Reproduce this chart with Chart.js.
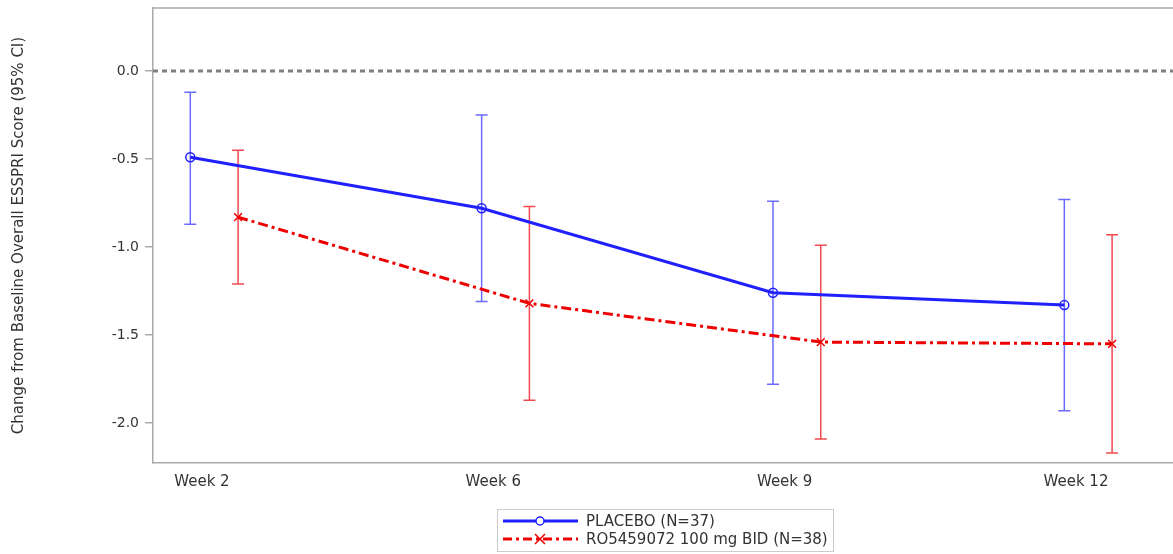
<!DOCTYPE html>
<html>
<head>
<meta charset="utf-8">
<script src="https://cdn.jsdelivr.net/npm/chart.js@4.4.1/dist/chart.umd.min.js"></script>
<style>
  body { margin: 0; background: #fff; }
  #wrap { position: relative; width: 1173px; height: 554px; }
  #legend {
    position: absolute; left: 497px; top: 509px; width: 335px; height: 39px;
    border: 1px solid #ccc; font-family: "DejaVu Sans", sans-serif; font-size: 15px; color: #333;
    padding-top: 2px;
  }
  .row { display: flex; align-items: center; height: 18px; }
  .row svg { margin-left: 5px; margin-right: 8px; }
</style>
</head>
<body>
<div id="wrap">
  <canvas id="chart"></canvas>
  <div id="legend">
    <div class="row">
      <svg width="75" height="12"><line x1="0" y1="6" x2="75" y2="6" stroke="#2020ff" stroke-width="3"/><circle cx="37" cy="6" r="4" fill="#fff" stroke="#2020ff" stroke-width="1.5"/></svg>
      <span>PLACEBO (N=37)</span>
    </div>
    <div class="row">
      <svg width="75" height="12"><line x1="0" y1="6" x2="75" y2="6" stroke="#ee0000" stroke-width="3" stroke-dasharray="9 4 3 4"/><path d="M32 1 L42 11 M42 1 L32 11" stroke="#ee0000" stroke-width="1.5"/></svg>
      <span>RO5459072 100 mg BID (N=38)</span>
    </div>
  </div>
</div>
<script>
const weeks = ['Week 2', 'Week 6', 'Week 9', 'Week 12'];
const placeboMean = [-0.49, -0.78, -1.26, -1.33];
const placeboUpper = [-0.12, -0.25, -0.74, -0.73];
const placeboLower = [-0.87, -1.31, -1.78, -1.93];
const roMean = [-0.83, -1.32, -1.54, -1.55];
const roUpper = [-0.45, -0.77, -0.99, -0.93];
const roLower = [-1.21, -1.87, -2.09, -2.17];
const yTicks = [0, -0.5, -1.0, -1.5, -2.0];

// cluster offsets (in category units) so the two groups sit side by side
const placeboShift = -0.04;
const roShift = 0.124;

const pts = (vals, shift) => vals.map((v, i) => ({ x: i + shift, y: v }));

const errorBars = {
  id: 'errorBars',
  beforeDatasetsDraw(chart) {
    const { ctx, chartArea, scales } = chart;
    const x = scales.x, y = scales.y;
    // reference line at 0
    ctx.save();
    ctx.strokeStyle = '#808080';
    ctx.lineWidth = 3;
    ctx.setLineDash([5, 4]);
    ctx.beginPath();
    ctx.moveTo(chartArea.left, y.getPixelForValue(0));
    ctx.lineTo(chartArea.right, y.getPixelForValue(0));
    ctx.stroke();
    ctx.setLineDash([]);
    const groups = [
      { lo: placeboLower, hi: placeboUpper, shift: placeboShift, color: '#6a6aff' },
      { lo: roLower, hi: roUpper, shift: roShift, color: '#f04a50' }
    ];
    groups.forEach(g => {
      ctx.strokeStyle = g.color;
      ctx.lineWidth = 1.5;
      g.lo.forEach((lo, i) => {
        const px = x.getPixelForValue(i + g.shift);
        const p1 = y.getPixelForValue(lo), p2 = y.getPixelForValue(g.hi[i]);
        ctx.beginPath();
        ctx.moveTo(px, p1); ctx.lineTo(px, p2);
        ctx.moveTo(px - 6, p1); ctx.lineTo(px + 6, p1);
        ctx.moveTo(px - 6, p2); ctx.lineTo(px + 6, p2);
        ctx.stroke();
      });
    });
    ctx.restore();
  },
  afterDraw(chart) {
    const { ctx, chartArea } = chart;
    ctx.save();
    ctx.strokeStyle = '#aaaaaa';
    ctx.lineWidth = 1.5;
    ctx.beginPath();
    ctx.moveTo(chartArea.left, chartArea.top);
    ctx.lineTo(chartArea.right, chartArea.top);
    ctx.stroke();
    ctx.restore();
  }
};

new Chart(document.getElementById('chart'), {
  type: 'line',
  data: {
    datasets: [
      {
        label: 'PLACEBO (N=37)',
        data: pts(placeboMean, placeboShift),
        borderColor: '#2020ff',
        borderWidth: 3,
        pointStyle: 'circle',
        pointRadius: 4.5,
        pointBorderWidth: 1.5,
        pointBackgroundColor: 'rgba(255,255,255,0)',
        pointBorderColor: '#2020ff',
        tension: 0
      },
      {
        label: 'RO5459072 100 mg BID (N=38)',
        data: pts(roMean, roShift),
        borderColor: '#ee0000',
        borderWidth: 3,
        borderDash: [10, 4, 3, 4],
        pointStyle: 'crossRot',
        pointRadius: 5.5,
        pointBorderWidth: 1.5,
        pointBorderColor: '#ee0000',
        tension: 0
      }
    ]
  },
  options: {
    responsive: true,
    maintainAspectRatio: false,
    animation: false,
    layout: { autoPadding: false, padding: { top: 8, right: 0, left: 0, bottom: 0 } },
    plugins: { legend: { display: false }, tooltip: { enabled: false } },
    scales: {
      x: {
        type: 'linear',
        min: -0.168,
        max: 3.333,
        afterBuildTicks: s => { s.ticks = weeks.map((w, i) => ({ value: i })); },
        afterFit: s => { s.height = 91; s.paddingLeft = 0; s.paddingRight = 0; },
        grid: { display: false, drawTicks: false },
        border: { display: true, color: '#aaaaaa', width: 1.5 },
        ticks: {
          callback: (v, i) => weeks[i],
          padding: 10,
          maxRotation: 0,
          autoSkip: false,
          color: '#333',
          font: { family: 'DejaVu Sans', size: 15 }
        }
      },
      y: {
        min: -2.227,
        max: 0.358,
        afterBuildTicks: s => { s.ticks = yTicks.map(v => ({ value: v })); },
        afterFit: s => { s.width = 153; s.paddingTop = 0; s.paddingBottom = 0; },
        grid: { display: true, drawOnChartArea: false, drawTicks: true, tickLength: 8, color: '#aaaaaa', lineWidth: 1.5 },
        border: { display: true, color: '#aaaaaa', width: 1.5 },
        ticks: {
          callback: v => v.toFixed(1),
          padding: 6,
          color: '#333',
          font: { family: 'DejaVu Sans', size: 14 }
        },
        title: {
          display: true,
          text: 'Change from Baseline Overall ESSPRI Score (95% CI)',
          color: '#333',
          font: { family: 'DejaVu Sans', size: 15 },
          padding: { top: 10, bottom: 0 }
        }
      }
    }
  },
  plugins: [errorBars]
});
</script>
</body>
</html>
